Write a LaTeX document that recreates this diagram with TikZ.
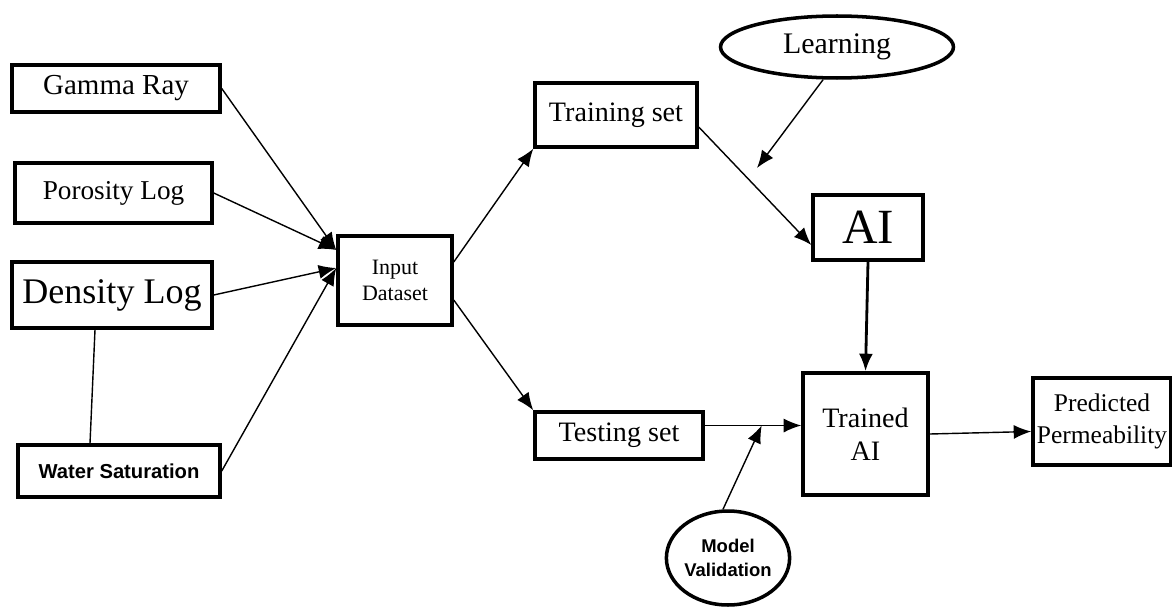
\documentclass[tikz,border=0pt]{standalone}
\usepackage{fontspec}
\setmainfont{Liberation Serif}
\setsansfont{Liberation Sans}
\usetikzlibrary{shapes.geometric, positioning, arrows.meta, calc}
\tikzset{box/.style={rectangle, draw, line width=2pt, inner sep=0pt, align=center}}
\tikzset{oval/.style={ellipse, draw, line width=2pt, inner sep=0pt, align=center}}

\begin{document}
\begin{tikzpicture}[x=0.02cm, y=-0.02cm, >={Latex[length=10pt,width=8pt]}, line width=0.8pt]
    \useasboundingbox (0,0) rectangle (1172,608);

    \node[box, minimum width=4.16cm, minimum height=0.94cm, font=\fontsize{16.5pt}{18pt}\selectfont] (gam) at (116,88.5) {Gamma Ray};
    \node[box, minimum width=3.94cm, minimum height=1.2cm, font=\fontsize{15.5pt}{18pt}\selectfont] (por) at (113.5,193) {Porosity Log};
    \node[box, minimum width=4.0cm, minimum height=1.32cm, font=\fontsize{20.5pt}{22pt}\selectfont] (den) at (112,295) {Density Log};
    \node[box, minimum width=4.04cm, minimum height=1.04cm, font=\sffamily\bfseries\fontsize{11.5pt}{13pt}\selectfont] (wat) at (119,471) {Water Saturation};

    \node[box, minimum width=2.28cm, minimum height=1.78cm, font=\fontsize{12.5pt}{15pt}\selectfont] (inp) at (395,280.5) {Input\\Dataset};

    \node[box, minimum width=3.24cm, minimum height=1.28cm, font=\fontsize{16pt}{18pt}\selectfont] (trn) at (616,115) {Training set};
    \node[box, minimum width=3.36cm, minimum height=0.94cm, font=\fontsize{16pt}{18pt}\selectfont] (tst) at (619,435.5) {Testing set};

    \node[oval, minimum width=4.66cm, minimum height=1.24cm, font=\fontsize{17pt}{19pt}\selectfont] (lrn) at (837,47) {Learning};
    \node[box, minimum width=2.2cm, minimum height=1.3cm, font=\fontsize{28pt}{30pt}\selectfont] (ai) at (868,227.5) {AI};
    \node[box, minimum width=2.5cm, minimum height=2.44cm, font=\fontsize{16pt}{19pt}\selectfont] (tai) at (865.5,434) {Trained\\AI};
    \node[box, minimum width=2.76cm, minimum height=1.74cm, font=\fontsize{14.5pt}{18pt}\selectfont] (prd) at (1102,421.5) {Predicted\\Permeability};
    \node[oval, minimum width=2.44cm, minimum height=1.88cm, font=\sffamily\bfseries\fontsize{10.5pt}{14pt}\selectfont] (val) at (728,558) {Model\\Validation};

    % inputs
    \draw[->] (gam.east) -- ([yshift=0.61cm]inp.west);
    \draw[->] (por.east) -- ([yshift=0.61cm]inp.west);
    \draw[->] (den.east) -- ([yshift=0.25cm]inp.west);
    \draw[->] (wat.east) -- ([yshift=0.25cm]inp.west);
    \draw ([xshift=-0.34cm]den.south) -- ([xshift=-0.58cm]wat.north);

    % split
    \draw[->] ([yshift=0.37cm]inp.east) -- (trn.south west);
    \draw[->] ([yshift=-0.39cm]inp.east) -- (tst.north west);

    \coordinate (lrnpt) at (757,168);
    \draw[->] ([xshift=-0.28cm]lrn.south) -- (lrnpt);
    \draw[->] ([yshift=-0.24cm]trn.east) -- ([yshift=-0.35cm]ai.west);
    \draw[->, line width=1.6pt] (ai.south) -- (tai.north);

    \coordinate (tstout) at ([yshift=0.2cm]tst.east);
    \coordinate (valpt) at ($(tstout)!0.59!(tstout -| tai.west)$);
    \draw[->] (tstout) -- (tstout -| tai.west);
    \draw[->] ([xshift=-0.1cm]val.north) -- (valpt);
    \draw[->] (tai.east) -- ([yshift=-0.2cm]prd.west);

\end{tikzpicture}
\end{document}
